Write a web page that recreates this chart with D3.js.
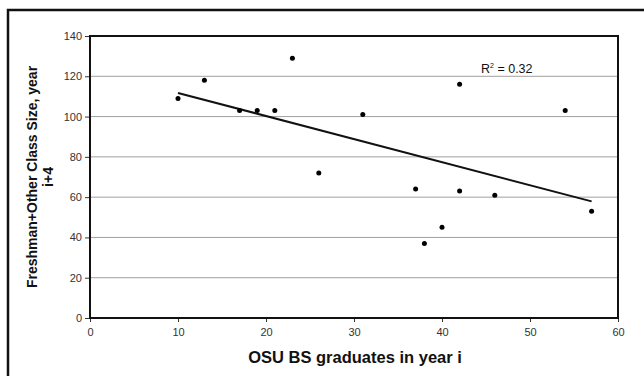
<!DOCTYPE html>
<html>
<head>
<meta charset="utf-8">
<script src="https://cdn.jsdelivr.net/npm/d3@7"></script>
<style>
  body { margin: 0; background: #fff; }
  text { font-family: Arial, "Liberation Sans", sans-serif; }
</style>
</head>
<body>
<div id="vis"></div>
<script>
// OSU graduates in year i vs class size in year i+4
var grads = [10, 13, 17, 19, 21, 23, 26, 31, 37, 38, 40, 42, 42, 46, 54, 57];
var classSize = [109, 118, 103, 103, 103, 129, 72, 101, 64, 37, 45, 63, 116, 61, 103, 53];
var xTicks = [0, 10, 20, 30, 40, 50, 60];
var yTicks = [0, 20, 40, 60, 80, 100, 120, 140];

var width = 644, height = 376;
var plot = { left: 90, right: 618, top: 36, bottom: 318 };

var svg = d3.select("#vis")
  .append("svg")
  .attr("width", width)
  .attr("height", height);

svg.append("rect")
  .attr("width", width)
  .attr("height", height)
  .attr("fill", "#fff");

// outer frame (only left and top sides are inside the picture)
svg.append("rect")
  .attr("x", 8)
  .attr("y", 10)
  .attr("width", 660)
  .attr("height", 400)
  .attr("fill", "none")
  .attr("stroke", "#111")
  .attr("stroke-width", 2.5);

var x = d3.scaleLinear().domain([0, 60]).range([plot.left, plot.right]);
var y = d3.scaleLinear().domain([0, 140]).range([plot.bottom, plot.top]);

// grid lines
svg.append("g")
  .selectAll("line")
  .data(yTicks.slice(1, -1))
  .enter()
  .append("line")
  .attr("x1", plot.left)
  .attr("x2", plot.right)
  .attr("y1", function(d) { return y(d); })
  .attr("y2", function(d) { return y(d); })
  .attr("stroke", "#a0a0a0")
  .attr("stroke-width", 1);

// axes
var yAxis = svg.append("g")
  .attr("transform", "translate(" + plot.left + ",0)")
  .call(d3.axisLeft(y).tickValues(yTicks).tickSize(5).tickPadding(3));
var xAxis = svg.append("g")
  .attr("transform", "translate(0," + plot.bottom + ")")
  .call(d3.axisBottom(x).tickValues(xTicks).tickSize(4).tickPadding(6));

[xAxis, yAxis].forEach(function(a) {
  a.select(".domain").remove();
  a.selectAll("line").attr("stroke", "#333");
  a.selectAll("text")
    .attr("font-size", 11)
    .attr("fill", "#333")
    .style("font-family", "Arial, 'Liberation Sans', sans-serif");
});

// plot border
svg.append("rect")
  .attr("x", plot.left)
  .attr("y", plot.top)
  .attr("width", plot.right - plot.left)
  .attr("height", plot.bottom - plot.top)
  .attr("fill", "none")
  .attr("stroke", "#111")
  .attr("stroke-width", 2);

// linear regression
var mx = d3.mean(grads), my = d3.mean(classSize);
var sxy = d3.sum(grads, function(d, i) { return (d - mx) * (classSize[i] - my); });
var sxx = d3.sum(grads, function(d) { return (d - mx) * (d - mx); });
var syy = d3.sum(classSize, function(d) { return (d - my) * (d - my); });
var slope = sxy / sxx, intercept = my - slope * mx;
var r2 = sxy * sxy / (sxx * syy);
var xExt = d3.extent(grads);

svg.append("line")
  .attr("x1", x(xExt[0]))
  .attr("y1", y(intercept + slope * xExt[0]))
  .attr("x2", x(xExt[1]))
  .attr("y2", y(intercept + slope * xExt[1]))
  .attr("stroke", "#111")
  .attr("stroke-width", 2);

// points
svg.append("g")
  .selectAll("circle")
  .data(grads)
  .enter()
  .append("circle")
  .attr("cx", function(d) { return x(d); })
  .attr("cy", function(d, i) { return y(classSize[i]); })
  .attr("r", 2.5)
  .attr("fill", "#000");

// R^2 label
var rl = svg.append("text")
  .attr("x", 481)
  .attr("y", 73)
  .attr("font-size", 12.5)
  .attr("fill", "#111");
rl.append("tspan").text("R");
rl.append("tspan").attr("font-size", 7).attr("dy", -5).text("2");
rl.append("tspan").attr("dy", 5).text(" = " + r2.toFixed(2));

// axis titles
svg.append("text")
  .attr("x", 355)
  .attr("y", 363)
  .attr("text-anchor", "middle")
  .attr("font-size", 16.5)
  .attr("font-weight", "bold")
  .attr("fill", "#111")
  .text("OSU BS graduates in year i");

var yt = svg.append("text")
  .attr("transform", "translate(37,177) rotate(-90)")
  .attr("text-anchor", "middle")
  .attr("font-size", 14)
  .attr("font-weight", "bold")
  .attr("fill", "#111");
yt.append("tspan").attr("x", 0).attr("y", 0).text("Freshman+Other Class Size, year");
yt.append("tspan").attr("x", 0).attr("y", 16).text("i+4");
</script>
</body>
</html>
